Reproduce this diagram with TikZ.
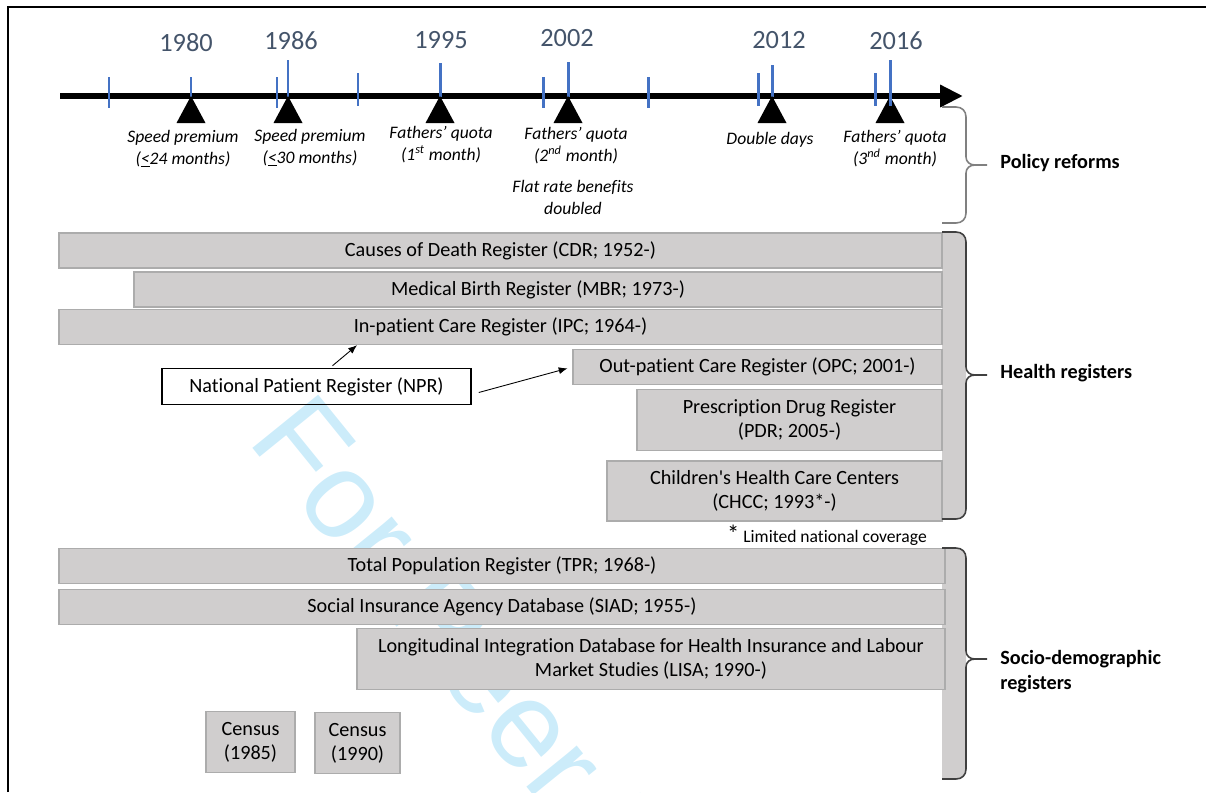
\documentclass[tikz,border=0pt]{standalone}
\usepackage{fontspec}
\setmainfont{Carlito}[Ligatures={TeX,NoCommon}]
\newfontfamily\wmfont{Liberation Sans}
\usetikzlibrary{arrows.meta}

\definecolor{regfill}{RGB}{208,206,206}
\definecolor{regline}{RGB}{172,172,172}
\definecolor{yearcol}{RGB}{68,84,106}
\definecolor{tickcol}{RGB}{68,114,196}
\definecolor{wmcol}{RGB}{204,236,250}

\begin{document}
\begin{tikzpicture}[x=0.02cm, y=-0.02cm,
    reg/.style={draw=regline, fill=regfill, line width=0.8pt, inner sep=0pt, align=center, font=\fontsize{11.5}{13.7}\selectfont},
    yr/.style={font=\fontsize{15}{18}\selectfont, text=yearcol, anchor=base},
    reform/.style={font=\fontsize{10}{12}\selectfont\itshape, align=center, anchor=base},
    grp/.style={font=\fontsize{11.5}{13.7}\selectfont\bfseries, anchor=base west, align=left, inner xsep=0pt},
    yrtick/.style={draw=tickcol, line width=1.7pt},
    regarrow/.style={-{Latex[length=5pt,width=4pt]}, line width=0.5pt}]
  \useasboundingbox (0,0) rectangle (1206,792);

  % watermark
  \node[text=wmcol, font=\wmfont\fontsize{70}{70}\selectfont, rotate=-51, anchor=base west, inner sep=0pt] (wm) at (246,440) {For Peer Review};

  % frame
  \draw[line width=1.1pt] (8,792) -- (8,7) -- (1206,7);

  % timeline
  \coordinate (t0) at (60,96);
  \coordinate (t1) at (963,96);
  \draw[line width=3.4pt, -{Triangle[length=13pt,width=12pt]}] (t0) -- (t1);
  \foreach \x/\ya/\yb in {109/77/108, 191/77/97, 277/77/108, 288/60/97, 358/73/106, 440/63/97, 543/77/108,
      568/62/97, 648/77/108, 758/73/106, 772/65/97, 875/73/106}
    \draw[yrtick] (\x,\ya) -- (\x,\yb);
  \foreach \x in {191,288,440,568,772,890}
    \fill (\x,96) -- (\x-14.5,123) -- (\x+14.5,123) -- cycle;
  \draw[yrtick] (890,60) -- (890,106);

  \node[yr] (y1980) at (186,51) {1980};
  \node[yr] (y1986) at (291,49) {1986};
  \node[yr] (y1995) at (441,48) {1995};
  \node[yr] (y2002) at (567,46) {2002};
  \node[yr] (y2012) at (779,48) {2012};
  \node[yr] (y2016) at (896,49) {2016};

  % base = last line
  \node[reform] (rf1980) at (183,164) {Speed premium\\(\underline{<}24 months)};
  \node[reform] (rf1986) at (310,163) {Speed premium\\(\underline{<}30 months)};
  \node[reform] (rf1995) at (441,160) {Fathers’ quota\\(1\textsuperscript{st} month)};
  \node[reform] (rf2002) at (576,161) {Fathers’ quota\\(2\textsuperscript{nd} month)};
  \node[reform] (rfflat) at (573,214) {Flat rate benefits\\doubled};
  \node[reform] (rf2012) at (770,144) {Double days};
  \node[reform] (rf2016) at (895,164) {Fathers’ quota\\(3\textsuperscript{nd} month)};

  % brace fills
  \foreach \ya/\yb/\col in {107/223/none, 232/519/regfill, 548/779/regfill}
    \path[fill=\col] (942,\ya) -- (956,\ya) .. controls (962,\ya) and (966,\ya+4) .. (966,\ya+10)
      -- (966,\yb-10) .. controls (966,\yb-4) and (962,\yb) .. (956,\yb) -- (942,\yb) -- cycle;

  % health registers
  \node[reg, minimum width=17.66cm, minimum height=0.70cm] (cdr) at (500.5,250.5) {Causes of Death Register (CDR; 1952-)};
  \node[reg, minimum width=16.16cm, minimum height=0.70cm] (mbr) at (538,289.5) {Medical Birth Register (MBR; 1973-)};
  \node[reg, minimum width=17.66cm, minimum height=0.70cm] (ipc) at (500.5,327) {In-patient Care Register (IPC; 1964-)};
  \node[reg, minimum width=7.38cm, minimum height=0.70cm] (opc) at (757.5,367) {Out-patient Care Register (OPC; 2001-)};
  \node[reg, minimum width=6.10cm, minimum height=1.22cm] (pdr) at (789.5,420) {Prescription Drug Register\\(PDR; 2005-)};
  \node[reg, minimum width=6.70cm, minimum height=1.20cm] (chcc) at (774.5,491) {Children\textquotesingle s Health Care Centers\\(CHCC; 1993*-)};
  \node[draw, line width=0.9pt, inner sep=0pt, font=\fontsize{11.5}{13.7}\selectfont, minimum width=6.18cm, minimum height=0.72cm] (npr) at (316.5,386.5) {National Patient Register (NPR)};
  \draw[regarrow] (npr.north) ++(16,-2) -- (357,0 |- ipc.south);
  \draw[regarrow, shorten >=0.1cm] (npr.east) ++(7,6) -- (opc.west);
  \node[font=\fontsize{10}{12}\selectfont, anchor=base east] (fnote) at (933,542) {{\fontsize{14}{14}\selectfont *} Limited national coverage};

  % socio-demographic registers
  \node[reg, minimum width=17.72cm, minimum height=0.70cm] (tpr) at (502,566) {Total Population Register (TPR; 1968-)};
  \node[reg, minimum width=17.72cm, minimum height=0.70cm] (siad) at (502,607) {Social Insurance Agency Database (SIAD; 1955-)};
  \node[reg, minimum width=11.76cm, minimum height=1.22cm] (lisa) at (651,659) {Longitudinal Integration Database for Health Insurance and Labour\\Market Studies (LISA; 1990-)};
  \node[reg, minimum width=1.78cm, minimum height=1.22cm] (c1985) at (250.5,742) {Census\\(1985)};
  \node[reg, minimum width=1.70cm, minimum height=1.22cm] (c1990) at (357.5,743) {Census\\(1990)};

  % braces
  \foreach \ya/\ym/\yb/\lc in {107/165/223/gray, 232/375/519/black!75, 548/659/779/black!75}
    \draw[draw=\lc, line width=0.9pt] (942,\ya) -- (956,\ya) .. controls (962,\ya) and (966,\ya+4) .. (966,\ya+10)
      -- (966,\ym-8) .. controls (966,\ym-3) and (970,\ym) .. (975,\ym) -- (987,\ym)
      (975,\ym) .. controls (970,\ym) and (966,\ym+3) .. (966,\ym+8)
      -- (966,\yb-10) .. controls (966,\yb-4) and (962,\yb) .. (956,\yb) -- (942,\yb);

  \node[grp] (gpol) at (1000,168) {Policy reforms};
  \node[grp] (ghealth) at (1000,378) {Health registers};
  \node[grp] (gsocio) at (1000,689) {Socio-demographic\\registers};
\end{tikzpicture}
\end{document}
